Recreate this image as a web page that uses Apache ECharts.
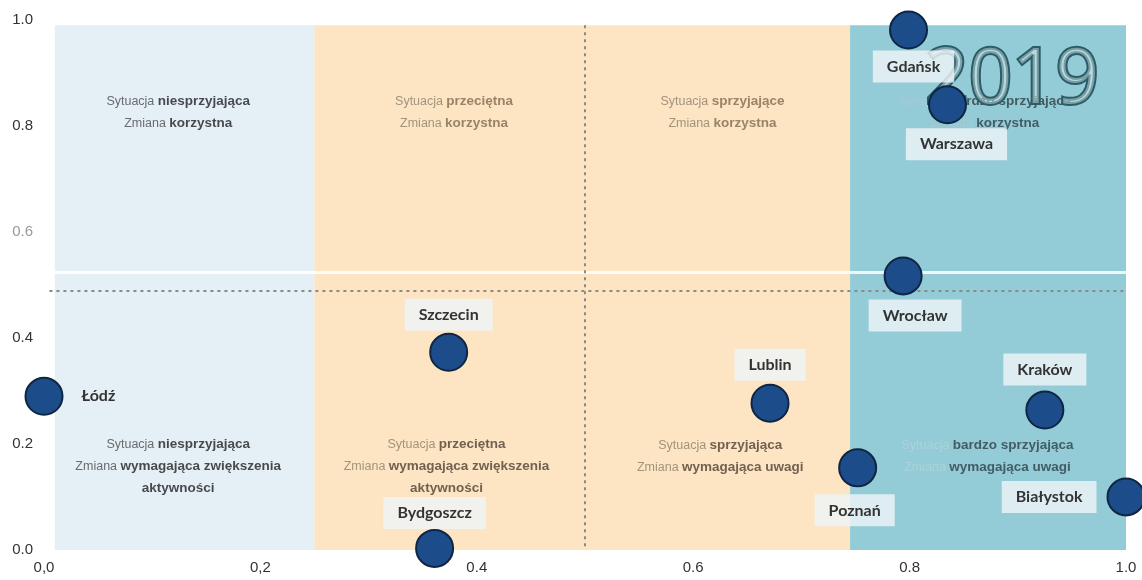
<!DOCTYPE html>
<html><head><meta charset="utf-8">
<script src="https://cdn.jsdelivr.net/npm/echarts@6/dist/echarts.min.js"></script>
<style>html,body{margin:0;padding:0;background:#fff}#c{width:1142px;height:580px}</style>
</head><body><div id="c"></div>
<script>
// ---- data ----
const cities   = ['Gdańsk','Warszawa','Wrocław','Kraków','Białystok','Poznań','Lublin','Szczecin','Łódź','Bydgoszcz'];
const sytuacja = [0.799, 0.835, 0.794, 0.925, 1.0, 0.752, 0.671, 0.374, 0.0, 0.361];
const zmiana   = [0.981, 0.84, 0.517, 0.264, 0.10, 0.155, 0.277, 0.373, 0.29, 0.003];
const xTickLabels = ['0,0','0,2','0.4','0.6','0.8','1.0'];
const yTickLabels = ['0.0','0.2','0.4','0.6','0.8','1.0'];
const zoneBreaks = [0.01, 0.25, 0.745, 1.0];
const thresholdX = 0.5, thresholdY = 0.49;
const year = '2019';
const noteTexts = [
  [['Sytuacja','niesprzyjająca'],['Zmiana','korzystna']],
  [['Sytuacja','przeciętna'],['Zmiana','korzystna']],
  [['Sytuacja','sprzyjające'],['Zmiana','korzystna']],
  [['Sytuacja','bardzo sprzyjająca'],['Zmiana','korzystna']],
  [['Sytuacja','niesprzyjająca'],['Zmiana','wymagająca zwiększenia'],['','aktywności']],
  [['Sytuacja','przeciętna'],['Zmiana','wymagająca zwiększenia'],['','aktywności']],
  [['Sytuacja','sprzyjająca'],['Zmiana','wymagająca uwagi']],
  [['Sytuacja','bardzo sprzyjająca'],['Zmiana','wymagająca uwagi']]
];

// ---- layout / style ----
const noteAnchors = [[0.124,0.826],[0.379,0.826],[0.627,0.826],[0.87,0.826],
                     [0.124,0.158],[0.372,0.158],[0.625,0.177],[0.872,0.177]];
const noteTones = [
  {a:'#4a4a4a', b:'#1e1e1e'},
  {a:'#8a7f6c', b:'#7d6b52'},
  {a:'#8a7f6c', b:'#7d6b52'},
  {a:'#a9cbd3', b:'#2f3f46'},
  {a:'#4a4a4a', b:'#1e1e1e'},
  {a:'#8a7f6c', b:'#4e4033'},
  {a:'#8a7f6c', b:'#4e4033'},
  {a:'#b3d3da', b:'#2f3f46'}
];
const zoneColors = ['#e5eff6', '#fde4c3', '#93ccd6'];
const labelCfg = {
  'Gdańsk':   {position:'bottom', distance:1, offset:[5,0]},
  'Warszawa': {position:'bottom', distance:4, offset:[9,0]},
  'Wrocław':  {position:'bottom', distance:4, offset:[12,0]},
  'Kraków':   {position:'top', distance:5},
  'Białystok':{position:'left', distance:10},
  'Poznań':   {position:'bottom', distance:7, offset:[-3,0]},
  'Lublin':   {position:'top', distance:3},
  'Szczecin': {position:'top', distance:2},
  'Łódź':     {position:'right', distance:4, backgroundColor:'transparent'},
  'Bydgoszcz':{position:'top', distance:0}
};

const chart = echarts.init(document.getElementById('c'), null, {renderer:'canvas'});

const areas = zoneColors.map((c,i) => [
  {xAxis: zoneBreaks[i], yAxis: 0, itemStyle:{color:c, opacity:1}},
  {xAxis: zoneBreaks[i+1], yAxis: 0.99}
]);

const notes = noteTexts.map((lines,i) => ({
  value: noteAnchors[i],
  label: {
    formatter: lines.map(([a,b]) => (a ? '{a|'+a+'} ' : '') + '{b|'+b+'}').join('\n'),
    rich: {
      a: {color: noteTones[i].a, fontSize: 12.5, fontFamily:'Liberation Sans', lineHeight:22},
      b: {color: noteTones[i].b, fontSize: 13.5, fontWeight:'bold', fontFamily:'Liberation Sans', lineHeight:22}
    }
  }
}));

const points = cities.map((n,i) => {
  const cfg = labelCfg[n] || {};
  return {name:n, value:[sytuacja[i], zmiana[i]], label: Object.assign({}, cfg)};
});

const dashStyle = {color:'#8a8a8a', width:2, type:[3,4]};

chart.setOption({
  animation:false,
  title: {
    text: year, right: 34, top: 38, z: 3,
    textStyle: {fontFamily:'Open Sans', fontSize:76, fontWeight:'normal',
      color:'rgba(225,238,240,0.45)', textBorderColor:'#2b5d68', textBorderWidth:4}
  },
  grid: {left:44, right:16, top:20, bottom:30},
  xAxis: {
    type:'value', min:0, max:1, interval:0.2,
    axisLine:{show:false}, axisTick:{show:false}, splitLine:{show:false},
    axisLabel:{margin:10, fontSize:15, color:'#333', fontFamily:'Liberation Sans',
      formatter: v => xTickLabels[Math.round(v*5)]}
  },
  yAxis: {
    type:'value', min:0, max:1, interval:0.2,
    axisLine:{show:false}, axisTick:{show:false}, splitLine:{show:false},
    axisLabel:{margin:11, fontSize:15, fontFamily:'Liberation Sans',
      color: v => Math.round(v*5) === 3 ? '#999' : '#333',
      formatter: v => yTickLabels[Math.round(v*5)]}
  },
  series: [
    {
      type:'scatter', data:[], z:1, silent:true, clip:false,
      markArea: {silent:true, data: areas}
    },
    {
      type:'line', data:[], z:2, silent:true, clip:false,
      markLine: {
        silent:true, symbol:'none', animation:false,
        label:{show:false},
        data: [
          [{coord:[0.0, 0.525], lineStyle:{color:'#ffffff', width:3, type:'solid', opacity:0.85}}, {coord:[1.0, 0.525]}],
          [{coord:[thresholdX, 0.99], lineStyle:dashStyle}, {coord:[thresholdX, 0.0]}],
          [{coord:[0.005, thresholdY], lineStyle:dashStyle}, {coord:[1.0, thresholdY]}]
        ]
      }
    },
    {
      type:'scatter', z:2, silent:true, symbolSize:0, clip:false,
      label:{show:true, position:'inside', align:'center', verticalAlign:'middle'},
      data: notes
    },
    {
      type:'scatter', z:10, silent:true, clip:false,
      symbolSize:37,
      itemStyle:{color:'#1d4c8a', borderColor:'#0e2644', borderWidth:2, opacity:1},
      label:{show:true, formatter:'{b}', fontFamily:'Lato', fontWeight:'bold', fontSize:16,
        color:'#333', backgroundColor:'rgba(238,244,248,0.82)', padding:[8,14]},
      data: points
    }
  ]
});
</script>
</body></html>
